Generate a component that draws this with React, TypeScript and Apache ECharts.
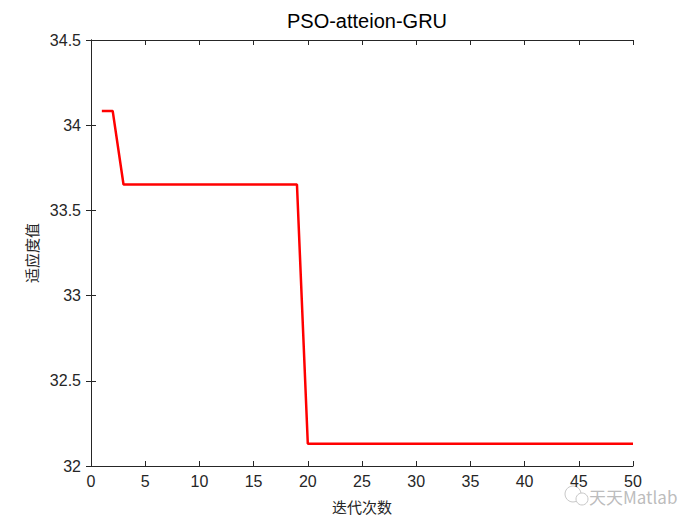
import React, { useEffect, useRef } from "react";
import * as echarts from "echarts";

const iterations: number[] = [
  1, 2, 3, 4, 5, 6, 7, 8, 9, 10, 11, 12, 13, 14, 15, 16, 17, 18, 19, 20,
  21, 22, 23, 24, 25, 26, 27, 28, 29, 30, 31, 32, 33, 34, 35, 36, 37, 38, 39, 40,
  41, 42, 43, 44, 45, 46, 47, 48, 49, 50,
];
const fitness: number[] = [
  34.084, 34.084, 33.652, 33.652, 33.652, 33.652, 33.652, 33.652, 33.652, 33.652,
  33.652, 33.652, 33.652, 33.652, 33.652, 33.652, 33.652, 33.652, 33.652, 32.131,
  32.131, 32.131, 32.131, 32.131, 32.131, 32.131, 32.131, 32.131, 32.131, 32.131,
  32.131, 32.131, 32.131, 32.131, 32.131, 32.131, 32.131, 32.131, 32.131, 32.131,
  32.131, 32.131, 32.131, 32.131, 32.131, 32.131, 32.131, 32.131, 32.131, 32.131,
];
const titleText = "PSO-atteion-GRU";
const xName = "迭代次数";
const yName = "适应度值";
const watermark = "天天Matlab";

export default function App() {
  const ref = useRef<HTMLDivElement>(null);
  useEffect(() => {
    if (!ref.current) return;
    const chart = echarts.init(ref.current, undefined, { renderer: "svg" });
    const axisColor = "#262626";
    const font = "'Liberation Sans', Arial, sans-serif";
    const cjk = "'Noto Sans CJK SC', sans-serif";
    const plain = {
      axisLine: { show: true, lineStyle: { color: axisColor, width: 1 } },
      splitLine: { show: false },
    };
    chart.setOption({
      animation: false,
      backgroundColor: "#ffffff",
      title: {
        text: titleText,
        left: 362,
        top: 6,
        textAlign: "center",
        textStyle: { fontFamily: font, fontSize: 20, fontWeight: "normal", color: "#000" },
      },
      grid: { left: 91, right: 67, top: 40, bottom: 59, containLabel: false },
      xAxis: [
        {
          type: "value",
          min: 0,
          max: 50,
          interval: 5,
          position: "bottom",
          name: xName,
          nameLocation: "middle",
          nameGap: 33,
          nameTextStyle: { fontFamily: cjk, fontSize: 15, color: axisColor },
          axisTick: { show: true, inside: true, length: 5, lineStyle: { color: axisColor } },
          axisLabel: { fontFamily: font, fontSize: 16, color: axisColor, margin: 7 },
          ...plain,
        },
        {
          type: "value",
          min: 0,
          max: 50,
          interval: 5,
          position: "top",
          axisTick: { show: true, inside: true, length: 5, lineStyle: { color: axisColor } },
          axisLabel: { show: false },
          ...plain,
        },
      ],
      yAxis: [
        {
          type: "value",
          min: 32,
          max: 34.5,
          interval: 0.5,
          position: "left",
          name: yName,
          nameLocation: "middle",
          nameGap: 48,
          nameTextStyle: { fontFamily: cjk, fontSize: 15, color: axisColor },
          axisTick: { show: true, inside: true, length: 5, lineStyle: { color: axisColor } },
          axisLabel: { fontFamily: font, fontSize: 16, color: axisColor, margin: 10 },
          ...plain,
        },
        {
          type: "value",
          min: 32,
          max: 34.5,
          interval: 0.5,
          position: "right",
          axisTick: { show: true, inside: true, length: 5, lineStyle: { color: axisColor } },
          axisLabel: { show: false },
          ...plain,
        },
      ],
      series: [
        {
          type: "line",
          xAxisIndex: 0,
          yAxisIndex: 0,
          data: iterations.map((x, i) => [x, fitness[i]]),
          showSymbol: false,
          lineStyle: { color: "#ff0000", width: 2.5 },
          itemStyle: { color: "#ff0000" },
        },
      ],
      graphic: [
        {
          type: "circle",
          shape: { cx: 573, cy: 494, r: 8 },
          style: { fill: "none", stroke: "#c8c8c8", lineWidth: 1 },
        },
        {
          type: "circle",
          shape: { cx: 582, cy: 499, r: 6 },
          style: { fill: "#fff", stroke: "#c8c8c8", lineWidth: 1 },
        },
        {
          type: "text",
          x: 589,
          y: 496,
          style: {
            text: watermark,
            fontFamily: "'Noto Sans CJK SC', sans-serif",
            fontSize: 17,
            fill: "#b4b4b4",
            opacity: 0.9,
            textVerticalAlign: "middle",
          },
        },
      ],
    });
    return () => chart.dispose();
  }, []);
  return <div ref={ref} style={{ width: 700, height: 525, position: "absolute", left: 0, top: 0 }} />;
}
